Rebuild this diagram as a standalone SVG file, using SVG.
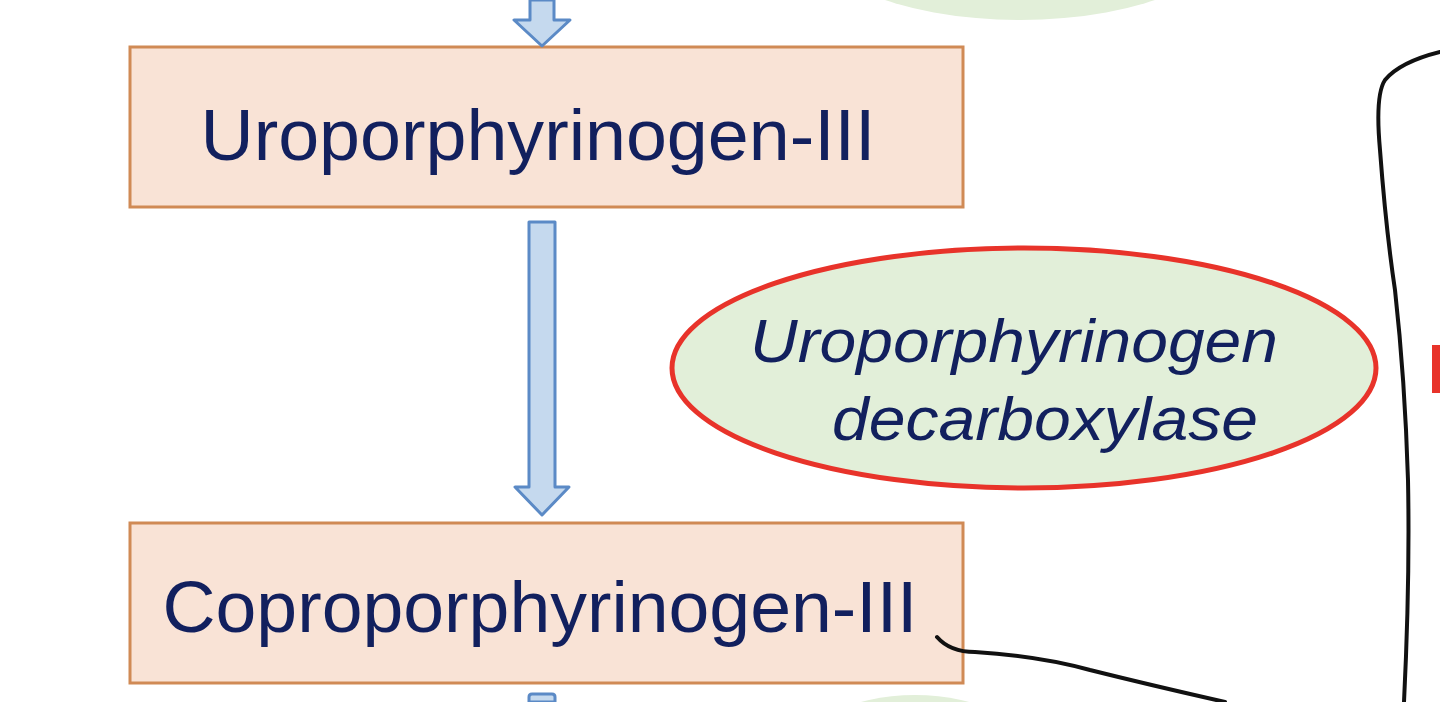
<svg xmlns="http://www.w3.org/2000/svg" width="1440" height="702" viewBox="0 0 1440 702">
<style>
.box{fill:#f9e3d6;stroke:#d08a55;stroke-width:3}
.lbl{font-family:"Liberation Sans",Arial,sans-serif;font-size:72px;fill:#12205e}
.enz{font-family:"Liberation Sans",Arial,sans-serif;font-size:62px;font-style:italic;fill:#12205e}
.arr{fill:#c5d9ee;stroke:#5b8ac6;stroke-width:3;stroke-linejoin:round}
.ell{fill:#e2efd9}
.hand{fill:none;stroke:#111;stroke-width:4;stroke-linecap:round}
</style>
<rect width="1440" height="702" fill="#fff"/>
<g id="enzyme-top"><ellipse class="ell" cx="1020" cy="-80" rx="225" ry="100"/></g>
<g id="uro3"><rect class="box" x="130" y="47" width="833" height="160"/><text class="lbl" x="538" y="160" text-anchor="middle" textLength="675" lengthAdjust="spacingAndGlyphs">Uroporphyrinogen-III</text></g>
<g id="enzyme"><ellipse cx="1024" cy="368" rx="352" ry="120" fill="#e2efd9" stroke="#e8332a" stroke-width="5"/>
<text class="enz" x="1014" y="362" text-anchor="middle" textLength="528" lengthAdjust="spacingAndGlyphs">Uroporphyrinogen</text>
<text class="enz" x="1045" y="440" text-anchor="middle" textLength="426" lengthAdjust="spacingAndGlyphs">decarboxylase</text></g>
<g id="copro3"><rect class="box" x="130" y="523" width="833" height="160"/><text class="lbl" x="540" y="632" text-anchor="middle" textLength="755" lengthAdjust="spacingAndGlyphs">Coproporphyrinogen-III</text></g>
<g id="enzyme-bottom"><ellipse class="ell" cx="915" cy="760" rx="120" ry="65"/></g>
<g id="connectors">
<path class="arr" d="M530,0 L554,0 L554,20 L570,20 L542,46 L514,20 L530,20 Z"/>
<path class="arr" d="M529,222 L555,222 L555,487 L569,487 L542,515 L515,487 L529,487 Z"/>
<path class="arr" d="M529,702 L529,697 Q529,694 532,694 L552,694 Q555,694 555,697 L555,702 Z"/>
<path class="hand" d="M937,637 Q950,652 975,652 Q1040,656 1090,670 Q1150,685 1225,702"/>
<path class="hand" d="M1440,52 Q1400,62 1385,80 Q1375,95 1380,150 Q1386,230 1395,290 Q1405,380 1408,480 Q1410,580 1404,702"/>
</g>
<rect x="1432" y="345" width="8" height="48" fill="#e8332a"/>
</svg>
